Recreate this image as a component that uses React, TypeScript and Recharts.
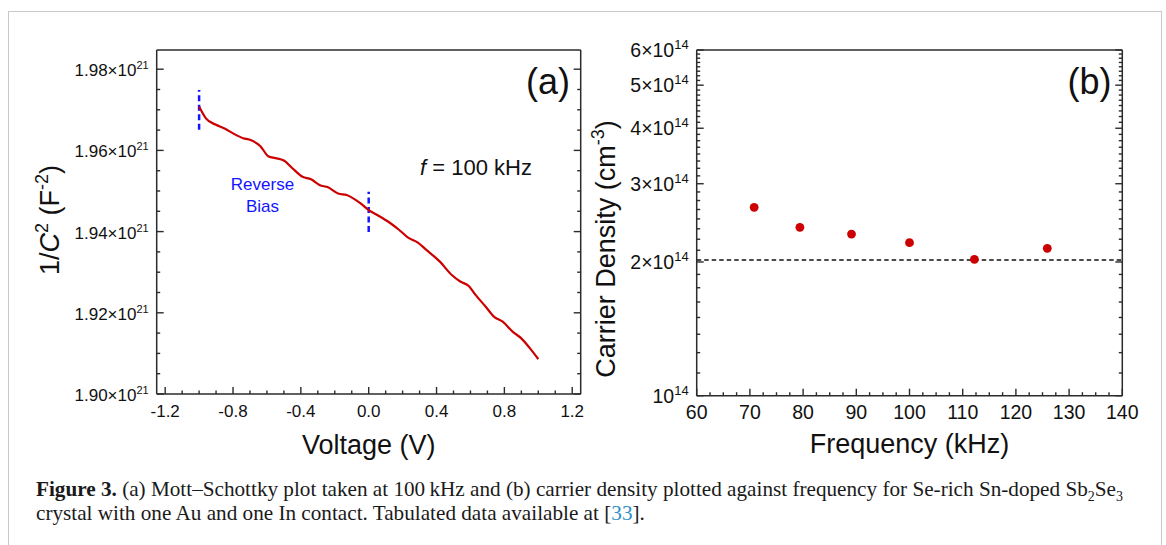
import React from 'react';
import { ComposedChart, Line, Scatter, XAxis, YAxis, ReferenceLine } from 'recharts';

// ---------- Data: panel (a) Mott–Schottky ----------
const voltageV = [-1.0, -0.96, -0.9, -0.85, -0.8, -0.74, -0.7, -0.64, -0.59, -0.55, -0.5, -0.45, -0.39, -0.34, -0.29, -0.24, -0.18, -0.13, -0.05, 0.0, 0.05, 0.12, 0.18, 0.23, 0.29, 0.34, 0.42, 0.49, 0.54, 0.59, 0.63, 0.69, 0.74, 0.79, 0.85, 0.9, 0.95, 1.0];
// 1/C^2 in units of 10^21 F^-2
const invC2 = [1.9708, 1.9679, 1.9663, 1.9654, 1.9642, 1.963, 1.9626, 1.9611, 1.9585, 1.9581, 1.9575, 1.9556, 1.9535, 1.9529, 1.9515, 1.9509, 1.9494, 1.949, 1.947, 1.9453, 1.9441, 1.9423, 1.9404, 1.9386, 1.9373, 1.9355, 1.9326, 1.9293, 1.9277, 1.9266, 1.9244, 1.9215, 1.919, 1.9178, 1.9153, 1.9137, 1.9113, 1.9086];
const biasMarkerV = [-1.0, 0.0];
const biasMarkerLow = [1.9651, 1.9399];
const biasMarkerHigh = [1.9749, 1.9498];

// ---------- Data: panel (b) carrier density ----------
const frequencyKHz = [70.8, 79.4, 89.1, 100, 112.2, 125.9];
const carrierDensity = [2.655e14, 2.393e14, 2.311e14, 2.21e14, 2.028e14, 2.147e14];
const densityGuide = 2.02e14;

// ---------- Tick labels ----------
const aXMajor = [-1.2, -0.8, -0.4, 0.0, 0.4, 0.8, 1.2];
const aYMajor = [1.9, 1.92, 1.94, 1.96, 1.98];
const bXMajor = [60, 70, 80, 90, 100, 110, 120, 130, 140];
const bYMajor = [1e14, 2e14, 3e14, 4e14, 5e14, 6e14];
const bYMajorLabels = ['', '2×', '3×', '4×', '5×', '6×'];

// minor ticks between majors (n subdivisions)
const subdivide = (majors: number[], n: number) => {
  const out: number[] = [];
  for (let i = 0; i < majors.length - 1; i++) {
    for (let k = 0; k < n; k++) out.push(majors[i] + ((majors[i + 1] - majors[i]) * k) / n);
  }
  out.push(majors[majors.length - 1]);
  return out;
};
const aXTicks = subdivide(aXMajor, 4);
const aYTicks = subdivide(aYMajor, 4);
const bXTicks = subdivide(bXMajor, 4);
const bYTicks = subdivide(bYMajor, 8);

const curveData = voltageV.map((v, i) => ({ x: v, y: invC2[i] }));
const markerData = biasMarkerV.map((v, i) => [
  { x: v, y: biasMarkerLow[i] },
  { x: v, y: biasMarkerHigh[i] },
]);
const densityData = frequencyKHz.map((f, i) => ({ x: f, y: carrierDensity[i] }));

const AXIS = '#2b2b2b';
const RED = '#cc0000';
const BLUE = '#1414ff';
const FONT = '"Liberation Sans", Arial, Helvetica, sans-serif';

const isIn = (v: number, arr: number[]) => arr.some((m) => Math.abs(m - v) < 1e-9 * Math.max(1, Math.abs(m)));

type Side = 'bottom' | 'top' | 'left' | 'right';
const makeTick = (side: Side, majors: number[], label?: (v: number) => React.ReactNode, opts: any = {}) =>
  (props: any) => {
    const { x, y, payload } = props;
    const v = payload.value;
    const major = isIn(v, majors);
    const len = major ? 7 : 3.5;
    let line;
    if (side === 'bottom') line = <line x1={x} x2={x} y1={y} y2={y - len} />;
    else if (side === 'top') line = <line x1={x} x2={x} y1={y} y2={y + len} />;
    else if (side === 'left') line = <line x1={x} x2={x + len} y1={y} y2={y} />;
    else line = <line x1={x} x2={x - len} y1={y} y2={y} />;
    return (
      <g>
        <g stroke={AXIS} strokeWidth={1.4}>{line}</g>
        {major && label && side === 'bottom' && (
          <text x={x} y={y + opts.dy} textAnchor="middle" fontSize={opts.fs} fontFamily={FONT} fill="#111">
            {label(v)}
          </text>
        )}
        {major && label && side === 'left' && (
          <text x={x - opts.dx} y={y + opts.dy} textAnchor="end" fontSize={opts.fs} fontFamily={FONT} fill="#111">
            {label(v)}
          </text>
        )}
      </g>
    );
  };

const aYLabel = (v: number) => (
  <>
    <tspan>{v.toFixed(2)}×10</tspan>
    <tspan dy={-7} fontSize={11}>21</tspan>
  </>
);
const bYLabel = (v: number) => {
  const i = bYMajor.findIndex((m) => Math.abs(m - v) < 1e6);
  return (
    <>
      <tspan>{bYMajorLabels[i]}10</tspan>
      <tspan dy={-8} fontSize={13}>14</tspan>
    </>
  );
};

const axisLine = { stroke: AXIS, strokeWidth: 1.5 };

function PanelA() {
  return (
    <ComposedChart width={620} height={470} margin={{ top: 49, right: 38.3, bottom: 36, left: 56.7 }}>
      <XAxis xAxisId="b" dataKey="x" type="number" domain={[-1.25, 1.25]} ticks={aXTicks} interval={0}
        tickSize={0} tickMargin={0} tickLine={false} axisLine={axisLine} height={40} allowDataOverflow
        tick={makeTick('bottom', aXMajor, (v) => v.toFixed(1), { dy: 22.5, fs: 17 })} />
      <XAxis xAxisId="t" orientation="top" type="number" domain={[-1.25, 1.25]} ticks={aXTicks} interval={0}
        tickSize={0} tickMargin={0} tickLine={false} axisLine={axisLine} height={1} allowDataOverflow
        tick={makeTick('top', aXMajor)} />
      <YAxis yAxisId="l" type="number" domain={[1.9, 1.98473]} ticks={aYTicks} interval={0}
        tickSize={0} tickMargin={0} tickLine={false} axisLine={axisLine} width={100} allowDataOverflow
        tick={makeTick('left', aYMajor, aYLabel, { dx: 8, dy: 7, fs: 17 })} />
      <YAxis yAxisId="r" orientation="right" type="number" domain={[1.9, 1.98473]} ticks={aYTicks} interval={0}
        tickSize={0} tickMargin={0} tickLine={false} axisLine={axisLine} width={1} allowDataOverflow
        tick={makeTick('right', aYMajor)} />
      {markerData.map((d, i) => (
        <Line key={i} xAxisId="b" yAxisId="l" data={d} dataKey="y" type="linear" stroke={BLUE}
          strokeWidth={2.5} strokeDasharray="6 3.5" dot={false} isAnimationActive={false} />
      ))}
      <Line xAxisId="b" yAxisId="l" data={curveData} dataKey="y" type="monotone" stroke={RED}
        strokeWidth={2.2} dot={false} isAnimationActive={false} />
    </ComposedChart>
  );
}

function PanelB() {
  return (
    <ComposedChart width={566} height={470} margin={{ top: 49, right: 42.7, bottom: 34.3, left: 6.7 }}>
      <XAxis xAxisId="b" dataKey="x" type="number" domain={[60, 140]} ticks={bXTicks} interval={0}
        tickSize={0} tickMargin={0} tickLine={false} axisLine={axisLine} height={40} allowDataOverflow
        tick={makeTick('bottom', bXMajor, (v) => String(Math.round(v)), { dy: 23, fs: 19.5 })} />
      <XAxis xAxisId="t" orientation="top" type="number" domain={[60, 140]} ticks={bXTicks} interval={0}
        tickSize={0} tickMargin={0} tickLine={false} axisLine={axisLine} height={1} allowDataOverflow
        tick={makeTick('top', bXMajor)} />
      <YAxis yAxisId="l" dataKey="y" type="number" scale="log" domain={[1e14, 6e14]} ticks={bYTicks} interval={0}
        tickSize={0} tickMargin={0} tickLine={false} axisLine={axisLine} width={90} allowDataOverflow
        tick={makeTick('left', bYMajor, bYLabel, { dx: 8, dy: 7, fs: 19.5 })} />
      <YAxis yAxisId="r" orientation="right" type="number" scale="log" domain={[1e14, 6e14]} ticks={bYTicks} interval={0}
        tickSize={0} tickMargin={0} tickLine={false} axisLine={axisLine} width={1} allowDataOverflow
        tick={makeTick('right', bYMajor)} />
      <ReferenceLine xAxisId="b" yAxisId="l" y={densityGuide} stroke="#111" strokeWidth={1.5} strokeDasharray="4.5 3" />
      <Scatter xAxisId="b" yAxisId="l" data={densityData} dataKey="y" fill={RED} isAnimationActive={false}
        shape={(p: any) => <circle cx={p.cx} cy={p.cy} r={4.4} fill={RED} />} />
    </ComposedChart>
  );
}

function Overlay() {
  return (
    <svg width={1166} height={545} style={{ position: 'absolute', left: 0, top: 0, pointerEvents: 'none' }}
      fontFamily={FONT}>
      <text transform="translate(59,220) rotate(-90)" textAnchor="middle" fontSize={27} fill="#111">
        1/<tspan fontStyle="italic">C</tspan>
        <tspan dy={-11} fontSize={18}>2</tspan>
        <tspan dy={11}> (F</tspan>
        <tspan dy={-11} fontSize={18}>-2</tspan>
        <tspan dy={11}>)</tspan>
      </text>
      <text x={368.7} y={454} textAnchor="middle" fontSize={27} fill="#111">Voltage (V)</text>
      <text transform="translate(615,249) rotate(-90)" textAnchor="middle" fontSize={27} fill="#111">
        Carrier Density (cm<tspan dy={-11} fontSize={18}>-3</tspan>
        <tspan dy={11}>)</tspan>
      </text>
      <text x={909.5} y={453} textAnchor="middle" fontSize={27} fill="#111">Frequency (kHz)</text>
      <text x={570} y={94} textAnchor="end" fontSize={36} fill="#111">(a)</text>
      <text x={1111.5} y={94} textAnchor="end" fontSize={36} fill="#111">(b)</text>
      <text x={420} y={175} fontSize={22} fill="#111">
        <tspan fontStyle="italic">f</tspan> = 100 kHz
      </text>
      <text x={262.5} y={190} textAnchor="middle" fontSize={17} fill={BLUE}>Reverse</text>
      <text x={262.5} y={211.7} textAnchor="middle" fontSize={17} fill={BLUE}>Bias</text>
    </svg>
  );
}

export default function App() {
  return (
    <div style={{ position: 'absolute', left: 0, top: 0, width: 1166, height: 545, overflow: 'hidden', background: '#fff' }}>
      <div style={{ position: 'absolute', left: 8, top: 11, width: 1154, height: 620, border: '1.5px solid #c9c9c9', boxSizing: 'border-box' }} />
      <div style={{ position: 'absolute', left: 0, top: 0 }}><PanelA /></div>
      <div style={{ position: 'absolute', left: 600, top: 0 }}><PanelB /></div>
      <Overlay />
      <div style={{ position: 'absolute', left: 36, top: 477, width: 1124, fontFamily: '"Liberation Serif", "Times New Roman", serif', fontSize: 21.2, lineHeight: '24px', color: '#1a1a1a' }}>
        <div style={{ whiteSpace: 'nowrap' }}>
          <b>Figure 3.</b> (a) Mott–Schottky plot taken at 100&#8201;kHz and (b) carrier density plotted against frequency for Se-rich Sn-doped Sb<sub style={{ fontSize: 14, lineHeight: 0 }}>2</sub>Se<sub style={{ fontSize: 14, lineHeight: 0 }}>3</sub>
        </div>
        <div style={{ whiteSpace: 'nowrap' }}>
          crystal with one Au and one In contact. Tabulated data available at [<span style={{ color: '#2f8fc4' }}>33</span>].
        </div>
      </div>
    </div>
  );
}
